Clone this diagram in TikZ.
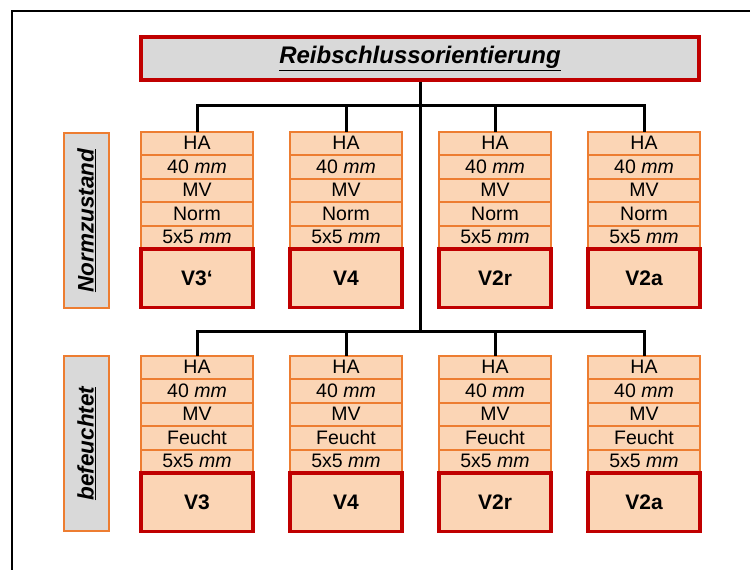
\documentclass[tikz,border=0pt]{standalone}
\usepackage{fontspec}
\setmainfont{Liberation Sans}
\usetikzlibrary{positioning}

\definecolor{boxRed}   {HTML}{C00000}
\definecolor{boxOrange}{HTML}{ED7D31}
\definecolor{boxPeach} {HTML}{FBD5B5}
\definecolor{boxGray}  {HTML}{D9D9D9}

\tikzset{
  cell/.style={draw=boxOrange, fill=boxPeach, line width=2pt,
    minimum width=112pt, minimum height=23.5pt, inner sep=0pt, outer sep=0pt,
    anchor=north, font=\fontsize{19.5}{19.5}\selectfont},
  vbox/.style={cell, draw=boxRed, line width=3.2pt, minimum height=58.5pt,
    font=\fontsize{21}{21}\selectfont\bfseries},
  side/.style={draw=boxOrange, fill=boxGray, line width=2pt, rotate=90,
    minimum width=175pt, minimum height=45pt, inner sep=0pt,
    font=\fontsize{22.5}{22.5}\selectfont\bfseries\itshape},
  conn/.style={line width=3pt},
}

\begin{document}
\begin{tikzpicture}[x=1pt, y=-1pt]
  \useasboundingbox (0,0) rectangle (750,570);
  \draw[line width=2pt] (11.5,570) -- (11.5,10.5) -- (750,10.5);

  \node[draw=boxRed, fill=boxGray, line width=3.2pt, minimum width=558pt,
        minimum height=43pt, font=\fontsize{24}{24}\selectfont\bfseries\itshape]
        (title) at (420,58.5) {\underline{Reibschlussorientierung}};

  \node[side] (norm)   at (86.5,220.5) {\underline{Normzustand}};
  \node[side] (feucht) at (86.5,443.5) {\underline{befeuchtet}};

  % Normzustand
  \foreach \c/\x/\lab in {1/197/V3‘, 2/346/V4, 3/495/V2r, 4/644/V2a}{
    \node[cell] (u\c-1) at (\x,131.5) {HA};
    \node[cell, below=0pt of u\c-1] (u\c-2) {40 \textit{mm}};
    \node[cell, below=0pt of u\c-2] (u\c-3) {MV};
    \node[cell, below=0pt of u\c-3] (u\c-4) {Norm};
    \node[cell, below=0pt of u\c-4] (u\c-5) {5x5 \textit{mm}};
    \node[vbox, below=0pt of u\c-5] (u\c-v) {\lab};
  }

  % befeuchtet
  \foreach \c/\x/\lab in {1/197/V3, 2/346/V4, 3/495/V2r, 4/644/V2a}{
    \node[cell] (l\c-1) at (\x,355.5) {HA};
    \node[cell, below=0pt of l\c-1] (l\c-2) {40 \textit{mm}};
    \node[cell, below=0pt of l\c-2] (l\c-3) {MV};
    \node[cell, below=0pt of l\c-3] (l\c-4) {Feucht};
    \node[cell, below=0pt of l\c-4] (l\c-5) {5x5 \textit{mm}};
    \node[vbox, below=0pt of l\c-5] (l\c-v) {\lab};
  }

  \coordinate (busU) at (420,105);
  \coordinate (busL) at (420,331);
  \draw[conn] (title.south) -- (busL);
  \draw[conn] (u1-1.north) |- (busU) -| (u4-1.north);
  \draw[conn] (u2-1.north) -- (u2-1.north |- busU);
  \draw[conn] (u3-1.north) -- (u3-1.north |- busU);
  \draw[conn] (l1-1.north) |- (busL) -| (l4-1.north);
  \draw[conn] (l2-1.north) -- (l2-1.north |- busL);
  \draw[conn] (l3-1.north) -- (l3-1.north |- busL);
\end{tikzpicture}
\end{document}
